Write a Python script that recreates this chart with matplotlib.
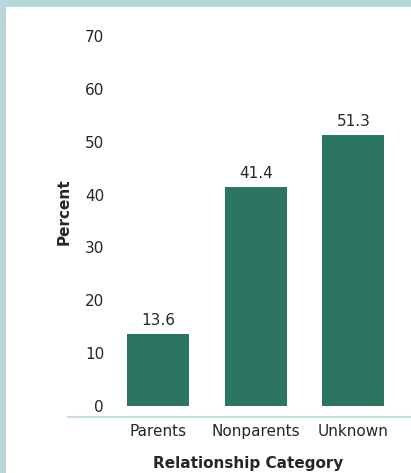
import matplotlib
matplotlib.use('Agg')
import matplotlib.pyplot as plt
from matplotlib.patches import Rectangle

# datos
categorias = ['Parents', 'Nonparents', 'Unknown']
porcentajes = [13.6, 41.4, 51.3]
yticks = [0, 10, 20, 30, 40, 50, 60, 70]

color_barra = '#2c7562'
color_texto = '#262626'
color_borde = '#b7d7da'
color_eje = '#c9dfdc'

plt.rcParams['font.family'] = ['DejaVu Sans']

W, H = 411, 473
fig = plt.figure(figsize=(W / 100, H / 100), dpi=100)

# marco azul claro arriba y a la izquierda
fig.add_artist(Rectangle((0, 1 - 7 / H), 1, 7 / H, transform=fig.transFigure,
                         color=color_borde, lw=0))
fig.add_artist(Rectangle((0, 0), 6 / W, 1, transform=fig.transFigure,
                         color=color_borde, lw=0))

ax = fig.add_axes([68 / W, (H - 406) / H, 1 - 68 / W, (406 - 36) / H])

x = list(range(len(categorias)))
barras = ax.bar(x, porcentajes, width=0.635, color=color_barra)

for b, v in zip(barras, porcentajes):
    ax.annotate(f'{v}', (b.get_x() + b.get_width() / 2, v), xytext=(0, 4.5),
                textcoords='offset points', ha='center', va='bottom',
                fontsize=11, color=color_texto)

ax.set_xlim(-0.921, 2.59)
ax.set_ylim(0, 70)
ax.set_xticks(x)
ax.set_xticklabels(categorias)
ax.set_yticks(yticks)

for s in ['top', 'right', 'left']:
    ax.spines[s].set_visible(False)
ax.spines['bottom'].set_position(('outward', 7.7))
ax.spines['bottom'].set_color(color_eje)
ax.spines['bottom'].set_linewidth(1.5)

ax.tick_params(axis='y', length=0, pad=-26, labelsize=11, labelcolor=color_texto)
ax.tick_params(axis='x', length=0, pad=5.0, labelsize=11, labelcolor=color_texto)

fig.text(64 / W, 1 - 212 / H, 'Percent', rotation=90, ha='center', va='center',
         fontsize=11, fontweight='bold', color=color_texto)
fig.text(248 / W, 1 - 463 / H, 'Relationship Category', ha='center', va='center',
         fontsize=11, fontweight='bold', color=color_texto)

fig.savefig('out.png', dpi=100)
